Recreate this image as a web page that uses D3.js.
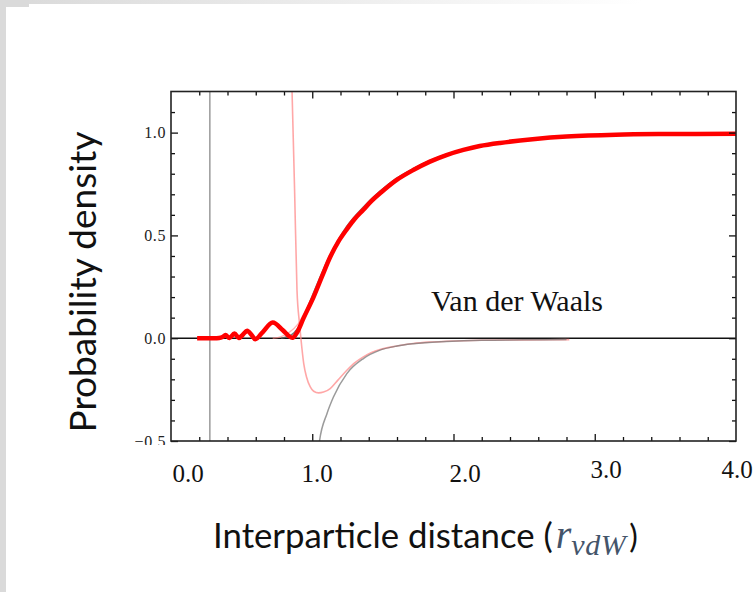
<!DOCTYPE html>
<html>
<head>
<meta charset="utf-8">
<script src="https://cdn.jsdelivr.net/npm/d3@7"></script>
<style>
body { margin: 0; background: #fff; }
svg { display: block; }
</style>
</head>
<body>
<svg width="755" height="592"></svg>
<script>
// probability density (thick red)
var densX = [0.185, 0.25, 0.34, 0.365, 0.386, 0.414, 0.449, 0.48, 0.51, 0.539, 0.57, 0.597, 0.65, 0.72, 0.79, 0.835, 0.861, 0.89, 0.94, 1.009, 1.07, 1.127, 1.185, 1.245, 1.3, 1.362, 1.42, 1.48, 1.598, 1.715, 1.833, 1.95, 2.07, 2.186, 2.33, 2.56, 2.8, 3.15, 3.5, 4.0];
var densY = [0, 0, 0.001, 0.006, 0.015, 0.001, 0.023, 0.001, 0.018, 0.036, 0.016, -0.005, 0.03, 0.076, 0.04, 0.01, 0.002, 0.025, 0.1, 0.2, 0.302, 0.395, 0.47, 0.53, 0.58, 0.625, 0.668, 0.705, 0.77, 0.818, 0.859, 0.891, 0.916, 0.935, 0.95, 0.968, 0.981, 0.99, 0.993, 0.994];

// asymptotic density (thin gray, under the red one)
var asymX = [0.78, 0.85, 0.9, 0.95, 1.0, 1.127, 1.245, 1.362, 1.48, 1.598, 1.715, 1.833, 1.95, 2.07, 2.186, 2.33, 2.56, 2.8, 3.15, 3.5, 4.0];
var asymY = [0, 0.015, 0.05, 0.12, 0.205, 0.405, 0.545, 0.638, 0.715, 0.778, 0.825, 0.864, 0.895, 0.918, 0.936, 0.951, 0.969, 0.981, 0.99, 0.993, 0.995];

// faint pink density
var pinkX = [0.72, 0.78, 0.84, 0.9, 0.95, 1.0, 1.06, 1.12];
var pinkY = [0, 0.008, 0.03, 0.07, 0.13, 0.2, 0.295, 0.39];

// interaction potential (pink)
var potX = [0.848, 0.857, 0.875, 0.892, 0.91, 0.927, 0.94, 0.96, 0.986, 1.01, 1.045, 1.08, 1.127, 1.18, 1.245, 1.3, 1.362, 1.42, 1.48, 1.6, 1.715, 1.83, 1.95, 2.19, 2.5, 2.82];
var potY = [1.45, 1.2, 0.72, 0.234, 0.07, -0.05, -0.125, -0.19, -0.237, -0.258, -0.266, -0.262, -0.245, -0.205, -0.156, -0.12, -0.091, -0.07, -0.055, -0.038, -0.026, -0.019, -0.015, -0.01, -0.008, -0.007];

// van der Waals tail (gray)
var vdwX = [1.04, 1.052, 1.104, 1.15, 1.245, 1.362, 1.48, 1.6, 1.715, 1.95, 2.2, 2.5, 2.8];
var vdwY = [-0.56, -0.497, -0.367, -0.286, -0.172, -0.099, -0.058, -0.038, -0.027, -0.016, -0.01, -0.008, -0.006];

var cutX = 0.275;
var xLabels = ["0.0", "1.0", "2.0", "3.0", "4.0"];
var xLabelVals = [0, 1, 2, 3, 4];
var yMajor = [-0.5, 0, 0.5, 1.0];

function zip(a, b) { return a.map(function(v, i) { return [v, b[i]]; }); }

var svg = d3.select("svg");
var pL = 171, pR = 736, pT = 91.5, pB = 441;

// slide border
var defs = svg.append("defs");
var grad = defs.append("linearGradient").attr("id", "topfade");
grad.append("stop").attr("offset", "0%").attr("stop-color", "#d9d9d9");
grad.append("stop").attr("offset", "85%").attr("stop-color", "#ffffff");
svg.append("rect").attr("x", 0).attr("y", 0).attr("width", 755).attr("height", 4).attr("fill", "url(#topfade)");
svg.append("rect").attr("x", 0).attr("y", 0).attr("width", 29).attr("height", 7).attr("fill", "#dadada");
svg.append("rect").attr("x", 0).attr("y", 0).attr("width", 6).attr("height", 592).attr("fill", "#dadada");

var x = d3.scaleLinear().domain([0, 4]).range([pL, pR]);
var y = d3.scaleLinear().domain([-0.5, 1.2]).range([pB, pT]);

defs.append("clipPath").attr("id", "plot")
  .append("rect").attr("x", pL).attr("y", pT).attr("width", pR - pL).attr("height", pB - pT);

var g = svg.append("g").attr("clip-path", "url(#plot)");

var line = d3.line()
    .x(function(d) { return x(d[0]); })
    .y(function(d) { return y(d[1]); })
    .curve(d3.curveMonotoneX);
var smooth = d3.line()
    .x(function(d) { return x(d[0]); })
    .y(function(d) { return y(d[1]); })
    .curve(d3.curveCatmullRom.alpha(0.5));

g.append("line")
    .attr("x1", x(cutX)).attr("x2", x(cutX))
    .attr("y1", pT).attr("y2", pB)
    .attr("stroke", "#9a9a9a").attr("stroke-width", 1.5);

g.append("line")
    .attr("x1", pL).attr("x2", pR)
    .attr("y1", y(0)).attr("y2", y(0))
    .attr("stroke", "#111").attr("stroke-width", 1.5);

g.append("path").datum(zip(potX, potY))
    .attr("fill", "none").attr("stroke", "#ff8a8a").attr("stroke-opacity", 0.75)
    .attr("stroke-width", 1.6).attr("d", line);

g.append("path").datum(zip(vdwX, vdwY))
    .attr("fill", "none").attr("stroke", "#7a7a7a").attr("stroke-opacity", 0.75)
    .attr("stroke-width", 1.5).attr("d", line);

g.append("path").datum(zip(asymX, asymY))
    .attr("fill", "none").attr("stroke", "#555").attr("stroke-opacity", 0.8)
    .attr("stroke-width", 1.6).attr("d", smooth);

g.append("path").datum(zip(pinkX, pinkY))
    .attr("fill", "none").attr("stroke", "#ff8080").attr("stroke-opacity", 0.6)
    .attr("stroke-width", 1.4).attr("d", smooth);

g.append("path").datum(zip(densX, densY))
    .attr("fill", "none").attr("stroke", "#ff0000")
    .attr("stroke-width", 4.5).attr("stroke-linejoin", "round").attr("stroke-linecap", "butt")
    .attr("d", smooth);

// frame ticks (inward, all four sides)
var xMinor = d3.range(0.2, 4, 0.2).filter(function(v) { return Math.abs(v - Math.round(v)) > 0.01; });
var xMaj = [1, 2, 3];
var yMinor = d3.range(-0.4, 1.2, 0.1).filter(function(v) { return Math.abs(v * 2 - Math.round(v * 2)) > 0.01; });

function ticks(axis, vals, size, tx, ty) {
  var a = svg.append("g").attr("transform", "translate(" + tx + "," + ty + ")")
      .call(axis.tickValues(vals).tickSize(-size).tickSizeOuter(0).tickFormat(""));
  a.select(".domain").remove();
  a.selectAll("line").attr("stroke", "#111").attr("stroke-width", 1.3);
  return a;
}
ticks(d3.axisBottom(x), xMaj, 7, 0, pB);
ticks(d3.axisBottom(x), xMinor, 4, 0, pB);
ticks(d3.axisTop(x), xMaj, 7, 0, pT);
ticks(d3.axisTop(x), xMinor, 4, 0, pT);
ticks(d3.axisLeft(y), yMajor, 7, pL, 0);
ticks(d3.axisLeft(y), yMinor, 4, pL, 0);
ticks(d3.axisRight(y), yMajor, 7, pR, 0);
ticks(d3.axisRight(y), yMinor, 4, pR, 0);

svg.append("rect")
    .attr("x", pL).attr("y", pT).attr("width", pR - pL).attr("height", pB - pT)
    .attr("fill", "none").attr("stroke", "#222").attr("stroke-width", 1.6);

// y tick labels
defs.append("clipPath").attr("id", "ylab")
  .append("rect").attr("x", 0).attr("y", 0).attr("width", 171).attr("height", 445);
var fmt = d3.format(".1f");
svg.append("g").attr("clip-path", "url(#ylab)")
  .selectAll("text").data(yMajor).enter().append("text")
    .attr("x", pL - 5)
    .attr("y", function(d) { return y(d); })
    .attr("dy", "0.35em")
    .attr("text-anchor", "end")
    .attr("font-family", "Liberation Serif").attr("font-size", 16)
    .attr("letter-spacing", 0.6).attr("fill", "#222")
    .text(function(d) { return fmt(d); });

// x tick labels (separate text boxes on the slide)
var xl = d3.scaleLinear().domain(xLabelVals).range([188, 317, 465, 606, 737]);
svg.append("g").selectAll("text").data(xLabels).enter().append("text")
    .attr("x", function(d, i) { return xl(xLabelVals[i]); })
    .attr("y", function(d, i) { return i < 3 ? 482 : 478; })
    .attr("text-anchor", "middle")
    .attr("font-family", "Liberation Serif").attr("font-size", 25).attr("fill", "#111")
    .text(function(d) { return d; });

svg.append("text")
    .attr("x", 431).attr("y", 311)
    .attr("font-family", "Liberation Serif").attr("font-size", 30).attr("fill", "#111")
    .text("Van der Waals");

// y axis title, fitted to the slide's width
var yt = svg.append("text")
    .attr("transform", "translate(96,282) rotate(-90)")
    .attr("text-anchor", "middle")
    .attr("font-family", "Lato").attr("font-size", 30).attr("fill", "#111")
    .text("Probability density");
var len = yt.node().getComputedTextLength();
yt.attr("font-size", 30 * 301 / len);

// x axis title
var xt = svg.append("text").attr("x", 213).attr("y", 548).attr("fill", "#111");
var t1 = xt.append("tspan").attr("font-family", "Lato").attr("font-size", 32).text("Interparticle distance (");
var l1 = t1.node().getComputedTextLength();
t1.attr("font-size", 32 * 340 / l1);
xt.append("tspan").attr("font-family", "Liberation Serif").attr("font-style", "italic")
    .attr("font-size", 40).attr("fill", "#44546a").attr("dx", 3).text("r");
xt.append("tspan").attr("font-family", "Liberation Serif").attr("font-style", "italic")
    .attr("font-size", 30).attr("fill", "#44546a").attr("dy", 7).attr("letter-spacing", 0.5).text("vdW");
xt.append("tspan").attr("font-family", "Lato").attr("font-size", 32).attr("dy", -7).attr("dx", 3).text(")");
</script>
</body>
</html>
